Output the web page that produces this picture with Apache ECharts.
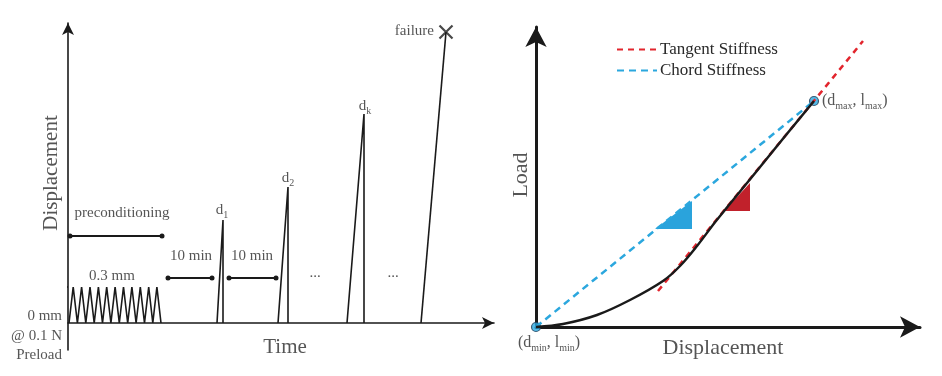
<!DOCTYPE html>
<html>
<head>
<meta charset="utf-8">
<script src="https://cdn.jsdelivr.net/npm/echarts@6/dist/echarts.min.js"></script>
<style>
html, body { margin: 0; padding: 0; background: #fff; }
#chart { width: 942px; height: 376px; }
</style>
</head>
<body>
<div id="chart"></div>
<script>
// ---- left panel: test protocol, displacement vs time (arbitrary units) ----
const precondWave = [
  [1, 0], [5.2, 36], [9.4, 0], [13.6, 36], [17.8, 0], [22, 36], [26.2, 0], [30.4, 36],
  [34.5, 0], [38.7, 36], [42.9, 0], [47.1, 36], [51.3, 0], [55.5, 36], [59.7, 0],
  [63.9, 36], [68.1, 0], [72.3, 36], [76.5, 0], [80.7, 36], [84.8, 0], [88.9, 36], [93, 0]
]
const spikeD1 = [[149, 0], [155, 103], [155, 0]]
const spikeD2 = [[210, 0], [220, 136], [220, 0]]
const spikeDk = [[279, 0], [296, 209], [296, 0]]
const failureRamp = [[353, 0], [378, 291]]
const failurePoint = [[378, 291]]
const precondSpan = [[2, 87], [94, 87]]
const restSpan1 = [[100, 45], [144, 45]]
const restSpan2 = [[161, 45], [208, 45]]
const ampTick = [[-6, 36], [0, 36]]

const leftNotes = [
  [54, 110, 'preconditioning'], [44, 47, '0.3 mm'],
  [123, 67, '10 min'], [184, 67, '10 min'],
  [247, 50, '...'], [325, 50, '...'],
  [154, 113, 'd{s|1}'], [220, 145, 'd{s|2}'], [297, 217, 'd{s|k}']
]
const leftRightNotes = [
  [-6, 7, '0 mm'], [-6, -13, '@ 0.1 N'], [-6, -32, 'Preload'], [366, 292, 'failure']
]
const leftTitle = [[217, -24, 'Time']]
const leftVTitle = [[-17, 150, 'Displacement']]

// ---- right panel: load vs displacement ----
const loadCurve = [
  [0, 0], [27, 3], [61, 12], [94, 27], [127, 46], [144, 61], [161, 81],
  [180, 106], [220, 155], [250, 192], [278, 226]
]
const tangentLine = [[122, 36], [327, 286]]
const chordLine = [[0, 0], [278, 226]]
const endPoints = [[0, 0], [278, 226]]
const chordTriangle = [[119, 98, 156, 126, 156, 98]]
const tangentTriangle = [[188, 116, 214, 144, 214, 116]]

const rightTitle = [[187, -21, 'Displacement']]
const rightVTitle = [[-15, 152, 'Load']]
const maxNote = [[286, 226, '(d{s|max}, l{s|max})']]
const minNote = [[13, -16, '(d{s|min}, l{s|min})']]

const serif = '"Liberation Serif", "DejaVu Serif", serif'
const ink = '#1a1a1a'
const textInk = '#2a2a2a'
const red = '#e2252d'
const blue = '#2ba7de'

const sub = (size) => ({
  s: { fontSize: size, fontFamily: serif, color: textInk, verticalAlign: 'bottom', lineHeight: 10 }
})

const textSeries = (data, axisIdx, size, extra = {}) => ({
  type: 'scatter',
  xAxisIndex: axisIdx,
  yAxisIndex: axisIdx,
  data,
  symbolSize: 0,
  clip: false,
  silent: true,
  label: {
    show: true,
    position: 'inside',
    formatter: (p) => p.data[2],
    fontFamily: serif,
    fontSize: size,
    color: textInk,
    lineHeight: 20,
    rich: sub(Math.round(size * 0.65)),
    ...extra
  }
})

const pathSeries = (data, axisIdx, opts = {}) => ({
  type: 'line',
  xAxisIndex: axisIdx,
  yAxisIndex: axisIdx,
  data,
  symbol: 'none',
  clip: false,
  silent: true,
  lineStyle: { color: ink, width: 1.6 },
  ...opts
})

const spanSeries = (data) => pathSeries(data, 0, {
  symbol: 'circle',
  symbolSize: 5,
  showSymbol: true,
  itemStyle: { color: ink },
  lineStyle: { color: ink, width: 1.8 }
})

const triangleSeries = (data, color) => ({
  type: 'custom',
  xAxisIndex: 1,
  yAxisIndex: 1,
  data,
  silent: true,
  clip: false,
  encode: { x: [0, 2, 4], y: [1, 3, 5] },
  renderItem: (params, api) => ({
    type: 'polygon',
    shape: {
      points: [0, 2, 4].map((i) => api.coord([api.value(i), api.value(i + 1)]))
    },
    style: { fill: color }
  })
})

const hiddenAxis = (gridIndex, min, max, lineWidth, arrow) => ({
  type: 'value',
  gridIndex,
  min,
  max,
  axisLine: {
    show: true,
    onZero: true,
    symbol: ['none', 'arrow'],
    symbolSize: arrow,
    lineStyle: { color: ink, width: lineWidth }
  },
  axisTick: { show: false },
  axisLabel: { show: false },
  splitLine: { show: false }
})

const chart = echarts.init(document.getElementById('chart'))
chart.setOption({
  animation: false,
  backgroundColor: '#fff',
  grid: [
    { left: 68, top: 23, width: 426, height: 327 },
    { left: 536, top: 27, width: 384, height: 300 }
  ],
  xAxis: [hiddenAxis(0, 0, 426, 1.6, [9, 12]), hiddenAxis(1, 0, 384, 3, [16, 20])],
  yAxis: [hiddenAxis(0, -27, 300, 1.6, [9, 12]), hiddenAxis(1, 0, 300, 3, [16, 20])],
  legend: {
    left: 611,
    top: 36,
    orient: 'vertical',
    itemWidth: 40,
    itemHeight: 12,
    itemGap: 4,
    selectedMode: false,
    data: ['Tangent Stiffness', 'Chord Stiffness'],
    itemStyle: { opacity: 0 },
    textStyle: { fontFamily: serif, fontSize: 17, color: textInk, padding: [0, 0, 0, -2] }
  },
  series: [
    pathSeries(precondWave, 0),
    pathSeries(spikeD1, 0),
    pathSeries(spikeD2, 0),
    pathSeries(spikeDk, 0),
    pathSeries(failureRamp, 0),
    pathSeries(ampTick, 0),
    spanSeries(precondSpan),
    spanSeries(restSpan1),
    spanSeries(restSpan2),
    {
      type: 'scatter',
      data: failurePoint,
      symbol: 'path://M0 0L10 10M10 0L0 10',
      symbolSize: 13,
      silent: true,
      clip: false,
      itemStyle: { color: 'transparent', borderColor: ink, borderWidth: 2.2 }
    },
    textSeries(leftNotes, 0, 15),
    textSeries(leftRightNotes, 0, 15, { align: 'right' }),
    textSeries(leftTitle, 0, 21),
    textSeries(leftVTitle, 0, 21, { rotate: 90 }),

    triangleSeries(chordTriangle, '#2aa3dc'),
    triangleSeries(tangentTriangle, '#c1212b'),
    pathSeries(chordLine, 1, {
      name: 'Chord Stiffness',
      itemStyle: { color: blue },
      lineStyle: { color: blue, width: 2.5, type: [7, 5] }
    }),
    pathSeries(tangentLine, 1, {
      name: 'Tangent Stiffness',
      itemStyle: { color: red },
      lineStyle: { color: red, width: 2.5, type: [6, 5] }
    }),
    pathSeries(loadCurve, 1, {
      smooth: 0.35,
      lineStyle: { color: ink, width: 2.5 }
    }),
    {
      type: 'scatter',
      xAxisIndex: 1,
      yAxisIndex: 1,
      data: endPoints,
      symbolSize: 9,
      silent: true,
      clip: false,
      itemStyle: { color: blue, borderColor: '#1d3c57', borderWidth: 1.2 }
    },
    textSeries(maxNote, 1, 16, { align: 'left' }),
    textSeries(minNote, 1, 16),
    textSeries(rightTitle, 1, 22),
    textSeries(rightVTitle, 1, 22, { rotate: 90 })
  ]
})
</script>
</body>
</html>
